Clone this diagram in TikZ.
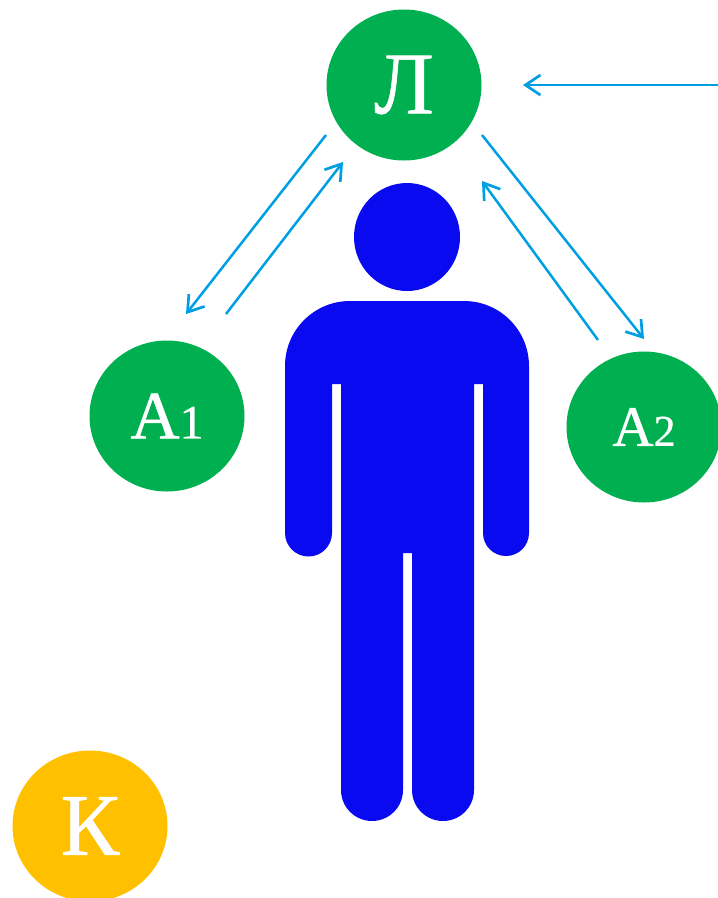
\documentclass[tikz,border=0pt]{standalone}
\usepackage{fontspec}
\setmainfont[FakeBold=0.7]{Liberation Serif}
\usetikzlibrary{arrows.meta,shapes.geometric}
\definecolor{grn}{HTML}{00AF50}
\definecolor{gold}{HTML}{FFC000}
\definecolor{figblue}{HTML}{0A0AF0}
\definecolor{arrowblue}{HTML}{009FE3}
\newcommand{\bigtxt}{\fontsize{88}{88}\selectfont}
\newcommand{\midtxt}[1]{\fontsize{#1}{#1}\selectfont}
\tikzset{
  bub/.style={ellipse,inner sep=0pt,minimum width=155pt,minimum height=151pt,text=white,fill=grn,anchor=center},
  conn/.style={draw=arrowblue,line width=2.5pt,-{Straight Barb[length=15pt,width=20pt,line width=2.7pt]}},
  figure part/.style={fill=figblue,draw=none}
}
\begin{document}
\begin{tikzpicture}[x=1pt,y=-1pt]
\useasboundingbox (0,0) rectangle (718,898);
\node[bub] (L) at (404,85) {\bigtxt Л};
\node[bub] (A1) at (167,416) {\midtxt{68}А\midtxt{48}1};
\node[bub] (A2) at (644,427) {\midtxt{57}А\midtxt{44}2};
\node[bub,fill=gold] (K) at (90,826) {\bigtxt К};
\coordinate (src) at (718,85);
\fill[figure part] (407,237) ellipse [x radius=53,y radius=54];
\fill[figure part] (285,366)
  arc[start angle=180,end angle=270,radius=65] -- (464,301)
  arc[start angle=270,end angle=360,radius=65] -- (529,533)
  arc[start angle=0,end angle=180,radius=23] -- (483,384) -- (474,384) -- (474,790)
  arc[start angle=0,end angle=180,radius=31] -- (412,553) -- (403,553) -- (403,790)
  arc[start angle=0,end angle=180,radius=31] -- (341,384) -- (332,384) -- (332,533)
  arc[start angle=0,end angle=180,radius=23.5] -- cycle;
\draw[conn] (src) -- ([shift={(119,0)}]L.center);
\draw[conn] ([shift={(-78,50)}]L.center) -- ([shift={(19,-102)}]A1.center);
\draw[conn] ([shift={(59,-102)}]A1.center) -- ([shift={(-61,77)}]L.center);
\draw[conn] ([shift={(78,50)}]L.center) -- ([shift={(0,-88)}]A2.center);
\draw[conn] ([shift={(-46,-87)}]A2.center) -- ([shift={(78,96)}]L.center);
\end{tikzpicture}
\end{document}
